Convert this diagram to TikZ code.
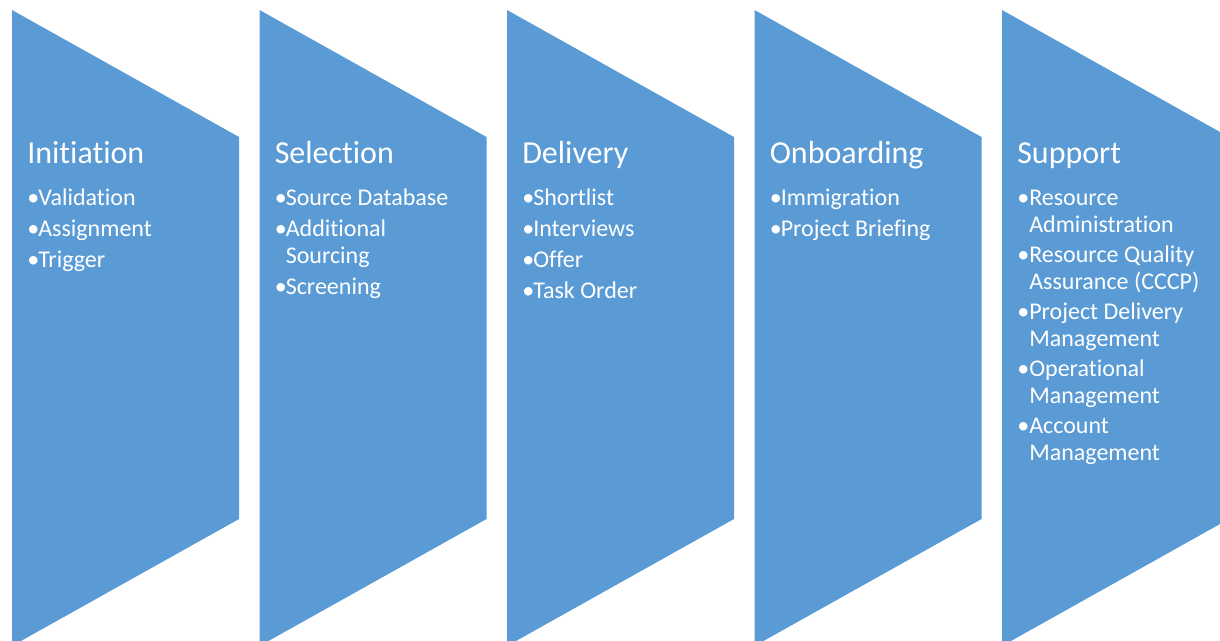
\documentclass[tikz,border=0pt]{standalone}
\usepackage{fontspec}
\setmainfont{Carlito}[Ligatures={NoCommon,NoContextual,NoRare}]
\definecolor{stepblue}{HTML}{5B9BD5}
\begin{document}
\begin{tikzpicture}[x=0.75pt,y=-0.75pt,
  phase/.style={fill=stepblue},
  ttl/.style={anchor=base west,inner sep=0pt,text=white,font=\fontsize{24}{28}\selectfont},
  itm/.style={anchor=base west,inner sep=0pt,text=white,font=\fontsize{18}{22}\selectfont},
]
\useasboundingbox (0,0) rectangle (1220,640);
\clip (0,0) rectangle (1220,640);
\foreach \L in {12,259.5,507,754.5,1002}
  \fill[phase] (\L,10) -- (\L+227,137) -- (\L+227,519) -- (\L,646) -- cycle;

% Column 1
\node[ttl] (t1) at (27,163) {Initiation};
\node[itm] (b1a) at (27,205) {•};
\node[itm] (i1a) at (38,205) {Validation};
\node[itm] (b1b) at (27,236) {•};
\node[itm] (i1b) at (38,236) {Assignment};
\node[itm] (b1c) at (27,267) {•};
\node[itm] (i1c) at (38,267) {Trigger};

% Column 2
\node[ttl] (t2) at (274.5,163) {Selection};
\node[itm] (b2a) at (274.5,205) {•};
\node[itm] (i2a) at (285.5,205) {Source Database};
\node[itm] (b2b) at (274.5,236) {•};
\node[itm] (i2b) at (285.5,236) {Additional};
\node[itm] (i2c) at (285.5,263) {Sourcing};
\node[itm] (b2d) at (274.5,294) {•};
\node[itm] (i2d) at (285.5,294) {Screening};

% Column 3
\node[ttl] (t3) at (522,163) {Delivery};
\node[itm] (b3a) at (522,205) {•};
\node[itm] (i3a) at (533,205) {Shortlist};
\node[itm] (b3b) at (522,236) {•};
\node[itm] (i3b) at (533,236) {Interviews};
\node[itm] (b3c) at (522,267) {•};
\node[itm] (i3c) at (533,267) {Offer};
\node[itm] (b3d) at (522,298) {•};
\node[itm] (i3d) at (533,298) {Task Order};

% Column 4
\node[ttl] (t4) at (769.5,163) {Onboarding};
\node[itm] (b4a) at (769.5,205) {•};
\node[itm] (i4a) at (780.5,205) {Immigration};
\node[itm] (b4b) at (769.5,236) {•};
\node[itm] (i4b) at (780.5,236) {Project Briefing};

% Column 5
\node[ttl] (t5) at (1017,163) {Support};
\node[itm] (b5a) at (1017,205) {•};
\node[itm] (i5a) at (1029,205) {Resource};
\node[itm] (i5b) at (1029,232) {Administration};
\node[itm] (b5c) at (1017,262) {•};
\node[itm] (i5c) at (1029,262) {Resource Quality};
\node[itm] (i5d) at (1029,289) {Assurance (CCCP)};
\node[itm] (b5e) at (1017,319) {•};
\node[itm] (i5e) at (1029,319) {Project Delivery};
\node[itm] (i5f) at (1029,346) {Management};
\node[itm] (b5g) at (1017,376) {•};
\node[itm] (i5g) at (1029,376) {Operational};
\node[itm] (i5h) at (1029,403) {Management};
\node[itm] (b5i) at (1017,433) {•};
\node[itm] (i5i) at (1029,433) {Account};
\node[itm] (i5j) at (1029,460) {Management};
\end{tikzpicture}
\end{document}
